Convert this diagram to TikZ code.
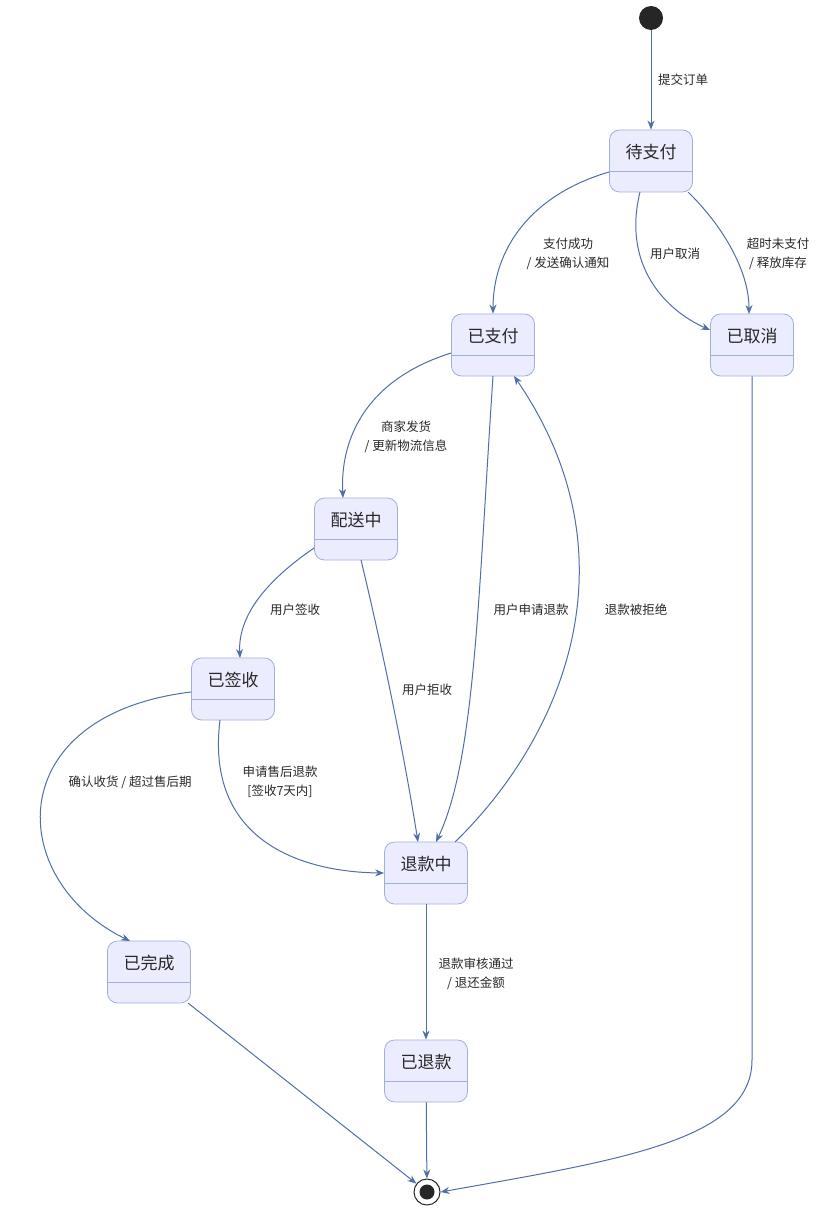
\documentclass[tikz,border=0pt]{standalone}
\usepackage{fontspec}
\setmainfont{Noto Sans CJK SC}
\usetikzlibrary{arrows.meta}
\definecolor{sfill}{RGB}{236,236,255}
\definecolor{sdraw}{RGB}{160,175,222}
\definecolor{edge}{RGB}{80,110,170}
\definecolor{txt}{RGB}{40,40,40}
\tikzset{
 st/.style={draw=sdraw,fill=sfill,rounded corners=10pt,minimum width=83pt,minimum height=62pt,line width=0.8pt,inner sep=0},
 tt/.style={font=\fontsize{17}{20}\selectfont,text=txt},
 lb/.style={font=\fontsize{12.5}{19}\selectfont,text=txt,align=center},
 e/.style={draw=edge,line width=1pt,-{Stealth[length=9pt,width=7pt]}}
}
\newcommand{\mkstate}[4]{%
 \node[st] (#1) at (#2,#3) {};
 \node[tt] (#1t) at ([yshift=-22pt]#1.north) {#4};
 \draw[sdraw,line width=0.8pt] ([yshift=-42pt]#1.north west) -- ([yshift=-42pt]#1.north east);
}
\begin{document}
\begin{tikzpicture}[x=1pt,y=-1pt]
\useasboundingbox (0,0) rectangle (835,1209);
\node[circle,fill=black!85,minimum size=24pt,inner sep=0] (start) at (651,18) {};
\node[circle,draw=black!85,line width=1pt,minimum size=26pt,inner sep=0] (end) at (427,1192) {};
\node[circle,fill=black!85,minimum size=15pt,inner sep=0] (endi) at (427,1192) {};
\mkstate{dzf}{651}{161}{待支付}
\mkstate{yzf}{493}{345}{已支付}
\mkstate{yqx}{752}{345}{已取消}
\mkstate{psz}{356}{529}{配送中}
\mkstate{yqs}{233}{689}{已签收}
\mkstate{tkz}{426}{873}{退款中}
\mkstate{ywc}{149}{972}{已完成}
\mkstate{ytk}{426}{1071}{已退款}

\draw[e] (start) -- (dzf);
\node[lb] at (683,80) {提交订单};

\draw[e] (dzf.west |- 0,172) .. controls (530,195) and (493,250) .. (yzf.north);
\node[lb] at (568,254) {支付成功\\/ 发送确认通知};

\draw[e] (640,192) .. controls (622,265) and (665,310) .. (yqx.west |- 0,330);
\node[lb] at (675,254) {用户取消};

\draw[e] (688,192) .. controls (722,225) and (749,270) .. (749,314);
\node[lb] at (778,254) {超时未支付\\/ 释放库存};

\draw[e] (yzf.west |- 0,353) .. controls (365,380) and (340,440) .. (343,498);
\node[lb] at (406,437) {商家发货\\/ 更新物流信息};

\draw[e] (493,376) .. controls (478,600) and (475,760) .. (436,842);
\node[lb] at (531,610) {用户申请退款};

\draw[e] (455,842) .. controls (560,740) and (640,560) .. (514,376);
\node[lb] at (636,610) {退款被拒绝};

\draw[e] (psz.west |- 0,548) .. controls (260,585) and (238,620) .. (240,658);
\node[lb] at (295,610) {用户签收};

\draw[e] (361,560) .. controls (385,660) and (405,760) .. (418,842);
\node[lb] at (427,690) {用户拒收};

\draw[e] (yqs.west |- 0,692) .. controls (0,715) and (5,880) .. (130,941);
\node[lb] at (130,782) {确认收货 / 超过售后期};

\draw[e] (220,720) .. controls (205,840) and (300,872) .. (tkz.west);
\node[lb] at (280,782) {申请售后退款\\{}[签收7天内]};

\draw[e] (tkz) -- (ytk);
\node[lb] at (476,974) {退款审核通过\\/ 退还金额};

\draw[e] (188,1003) -- (end);
\draw[e] (ytk) -- (end);
\draw[e] (yqx.south) -- (752,1060) .. controls (752,1140) and (620,1160) .. (end.east);
\end{tikzpicture}
\end{document}
